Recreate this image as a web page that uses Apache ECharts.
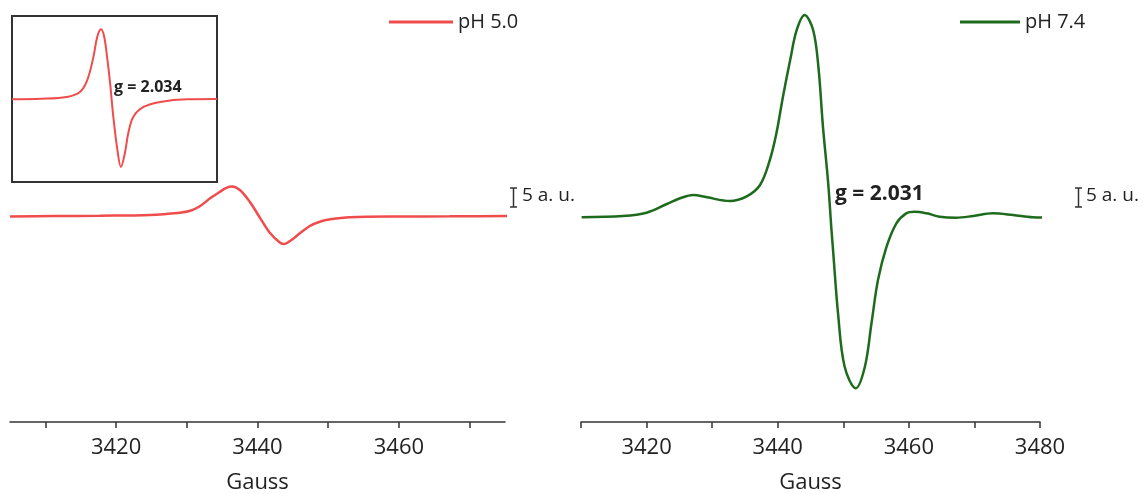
<!DOCTYPE html>
<html>
<head>
<meta charset="utf-8">
<script src="https://cdn.jsdelivr.net/npm/echarts@6/dist/echarts.min.js"></script>
<style>
html,body{margin:0;padding:0;background:#fff;}
#chart{width:1143px;height:494px;}
</style>
</head>
<body>
<div id="chart"></div>
<script>
// ---- data (Gauss, signal in a.u.) ----
const leftGauss   = [3405.0, 3411.0, 3417.7, 3424.8, 3429.0, 3430.5, 3431.9, 3433.3, 3434.7, 3435.6, 3436.4, 3437.5, 3438.9, 3440.4, 3441.8, 3443.2, 3443.8, 3444.6, 3446.0, 3447.4, 3448.8, 3450.3, 3453.1, 3460.2, 3467.2, 3477.1];
const leftSignal  = [-0.1, 0.0, 0.08, 0.26, 0.87, 1.39, 2.63, 4.66, 6.39, 7.4, 7.76, 6.84, 3.76, -0.61, -4.55, -7.03, -7.37, -6.58, -4.55, -2.63, -1.5, -0.87, -0.34, -0.13, -0.08, 0.0];

const insetGauss  = [3405.0, 3415.0, 3423.7, 3428.2, 3430.7, 3432.8, 3434.1, 3435.4, 3436.5, 3437.6, 3438.5, 3439.6, 3441.0, 3442.2, 3443.6, 3444.7, 3446.4, 3449.9, 3455.6, 3464.7, 3475.0];
const insetSignal = [0.0, 0.05, 0.25, 0.79, 2.07, 4.60, 6.77, 7.61, 6.77, 4.24, 1.74, -1.92, -5.54, -7.36, -5.76, -3.70, -1.92, -0.84, -0.29, 0.0, 0.03];

const rightGauss  = [3410.1, 3416.4, 3420.0, 3423.1, 3425.1, 3427.1, 3429.2, 3432.7, 3435.2, 3437.3, 3438.8, 3439.8, 3440.8, 3441.9, 3442.9, 3444.1, 3445.4, 3446.2, 3446.9, 3447.7, 3448.2, 3448.4, 3449.2, 3450.2, 3451.9, 3453.3, 3454.3, 3455.3, 3456.6, 3458.1, 3459.6, 3460.9, 3462.7, 3464.7, 3467.2, 3469.8, 3472.8, 3475.9, 3478.9, 3482.5, 3485.0, 3486.8];
const rightSignal = [-0.34, 0.0, 0.87, 3.16, 4.66, 5.53, 4.92, 3.95, 5.08, 8.16, 14.74, 21.76, 31.4, 41.05, 48.95, 52.9, 48.95, 39.3, 23.5, 8.6, -3.7, -8.07, -25.6, -39.6, -45.3, -39.6, -28.2, -16.8, -8.07, -1.92, 0.71, 1.13, 0.71, -0.18, -0.45, 0.0, 0.71, 0.26, -0.34, -0.45, 0.0, 0.53];

const leftTicks = [3410, 3420, 3430, 3440, 3450, 3460, 3470];
const leftTickLabels = [3420, 3440, 3460];
const rightTicks = [3410, 3420, 3430, 3440, 3450, 3460, 3470, 3480];
const rightTickLabels = [3420, 3440, 3460, 3480];

const seriesNames = ['pH 5.0', 'pH 7.4'];
const gLabels = ['g = 2.034', 'g = 2.031'];
const scaleLabel = '5 a. u.';

// ---- styles ----
const FONT = '"Open Sans", "Noto Sans", sans-serif';
const RED = '#f04c4c';
const GREEN = '#1d6b1d';
const TXT = '#222';

const pairs = (xs, ys) => xs.map((x, i) => [x, ys[i]]);

const xAxisCommon = (min, max, ticks, labels, gridIndex) => ({
  type: 'value', gridIndex, min, max,
  axisLine: {show: true, onZero: false, lineStyle: {color: '#333', width: 1.5}},
  axisTick: {show: true, customValues: ticks, length: 6, lineStyle: {color: '#333', width: 1.5}},
  axisLabel: {show: true, customValues: labels, margin: 15, fontSize: 22, color: TXT, fontFamily: FONT,
              formatter: v => String(v)},
  splitLine: {show: false},
  name: 'Gauss', nameLocation: 'middle', nameGap: 50,
  nameTextStyle: {fontSize: 22, color: TXT, fontFamily: FONT}
});
const yAxisHidden = (min, max, gridIndex) => ({
  type: 'value', gridIndex, min, max, show: false, splitLine: {show: false}
});

function scaleBar(x, yTop, yBot) {
  return [
    {type: 'line', shape: {x1: x, y1: yTop, x2: x, y2: yBot}, style: {stroke: '#333', lineWidth: 1.5}},
    {type: 'line', shape: {x1: x - 3.5, y1: yTop, x2: x + 3.5, y2: yTop}, style: {stroke: '#333', lineWidth: 1.5}},
    {type: 'line', shape: {x1: x - 3.5, y1: yBot, x2: x + 3.5, y2: yBot}, style: {stroke: '#333', lineWidth: 1.5}}
  ];
}

const chart = echarts.init(document.getElementById('chart'), null, {renderer: 'canvas'});
chart.setOption({
  backgroundColor: '#fff',
  animation: false,
  grid: [
    {left: 10, top: 0, width: 495, height: 422, outerBoundsMode: 'none', containLabel: false},
    {left: 581, top: 0, width: 459, height: 422, outerBoundsMode: 'none', containLabel: false},
    {left: 12, top: 16, width: 205, height: 166, outerBoundsMode: 'none', containLabel: false,
     show: true, borderColor: '#333', borderWidth: 2, backgroundColor: 'rgba(0,0,0,0)'}
  ],
  xAxis: [
    xAxisCommon(3405, 3475, leftTicks, leftTickLabels, 0),
    xAxisCommon(3410, 3480, rightTicks, rightTickLabels, 1),
    {type: 'value', gridIndex: 2, min: 3405, max: 3475, show: false, splitLine: {show: false}}
  ],
  yAxis: [
    yAxisHidden(-54.2, 56.84, 0),
    yAxisHidden(-54.2, 56.84, 1),
    yAxisHidden(-9.0, 9.05, 2)
  ],
  legend: [
    {data: [seriesNames[0]], left: 384, top: 7, icon: 'rect', itemWidth: 64, itemHeight: 3, itemGap: 4,
     textStyle: {fontSize: 20, color: TXT, fontFamily: FONT}},
    {data: [seriesNames[1]], left: 955, top: 7, icon: 'rect', itemWidth: 60, itemHeight: 3, itemGap: 4,
     textStyle: {fontSize: 20, color: TXT, fontFamily: FONT}}
  ],
  series: [
    {name: seriesNames[0], type: 'line', xAxisIndex: 0, yAxisIndex: 0, data: pairs(leftGauss, leftSignal),
     showSymbol: false, symbol: 'none', smooth: 0.35, clip: false,
     lineStyle: {color: RED, width: 2.5}, itemStyle: {color: RED}},
    {name: seriesNames[1], type: 'line', xAxisIndex: 1, yAxisIndex: 1, data: pairs(rightGauss, rightSignal),
     showSymbol: false, symbol: 'none', smooth: 0.35, clip: false,
     lineStyle: {color: GREEN, width: 2.5}, itemStyle: {color: GREEN}},
    {name: 'inset', type: 'line', xAxisIndex: 2, yAxisIndex: 2, data: pairs(insetGauss, insetSignal),
     showSymbol: false, symbol: 'none', smooth: 0.35,
     lineStyle: {color: RED, width: 2}, itemStyle: {color: RED}}
  ],
  graphic: [
    {type: 'text', left: 114, top: 79, style: {text: gLabels[0], fontSize: 16, fontWeight: 'bold', fill: TXT, fontFamily: FONT}},
    {type: 'text', left: 835, top: 184, style: {text: gLabels[1], fontSize: 21, fontWeight: 'bold', fill: TXT, fontFamily: FONT}},
    ...scaleBar(513.5, 188, 207),
    {type: 'text', left: 522, top: 186, style: {text: scaleLabel, fontSize: 19, fill: TXT, fontFamily: FONT}},
    ...scaleBar(1078.5, 188, 207),
    {type: 'text', left: 1086, top: 186, style: {text: scaleLabel, fontSize: 19, fill: TXT, fontFamily: FONT}}
  ]
});
</script>
</body>
</html>
